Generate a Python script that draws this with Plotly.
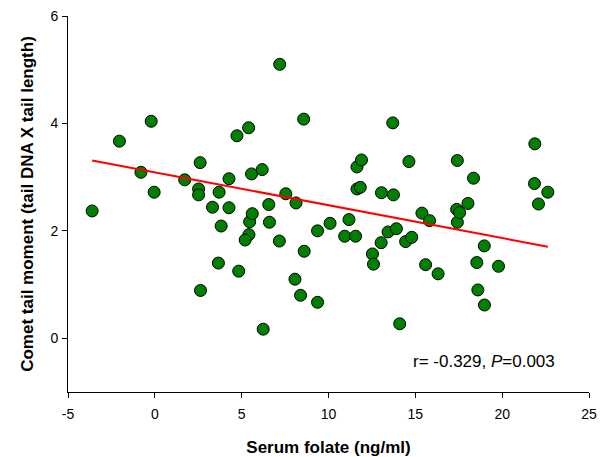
import plotly.graph_objects as go

# Serum folate (ng/ml)
folate = [-3.61, -2.04, -0.80, -0.21, -0.04, 1.72, 2.52, 2.52, 2.61, 2.63,
          3.32, 3.66, 3.70, 3.82, 4.27, 4.27, 4.73, 4.83, 5.40, 5.42,
          5.20, 5.46, 5.57, 5.61, 6.18, 6.24, 6.56, 6.60, 7.17, 7.19,
          7.54, 8.07, 8.13, 8.39, 8.57, 8.60, 9.37, 9.37, 10.09, 10.93,
          11.18, 11.56, 11.64, 11.90, 11.64, 11.83, 12.53, 12.59, 13.03, 13.05,
          13.43, 13.70, 13.74, 13.91, 14.10, 14.44, 14.63, 14.79, 15.38, 15.59,
          15.82, 16.31, 17.38, 17.42, 17.42, 17.55, 18.03, 18.35, 18.54, 18.60,
          18.97, 18.98, 19.79, 21.86, 21.88, 22.09, 22.63]
# Comet tail moment
tail_moment = [2.37, 3.67, 3.09, 4.04, 2.72, 2.95, 2.78, 2.67, 3.27, 0.89,
               2.44, 1.40, 2.72, 2.09, 2.97, 2.43, 3.77, 1.25, 3.92, 1.93,
               1.83, 2.17, 3.06, 2.32, 3.14, 0.17, 2.49, 2.16, 1.81, 5.10,
               2.69, 1.10, 2.52, 0.80, 4.08, 1.62, 2.00, 0.67, 2.14, 1.90,
               2.21, 1.90, 3.19, 3.32, 2.78, 2.81, 1.57, 1.38, 1.78, 2.71,
               1.98, 4.01, 2.67, 2.04, 0.27, 1.80, 3.29, 1.88, 2.33, 1.37,
               2.19, 1.20, 2.40, 3.31, 2.16, 2.34, 2.51, 2.98, 1.41, 0.90,
               1.72, 0.62, 1.34, 2.88, 3.62, 2.50, 2.72]

# Regression line
fit_intercept = 3.089
fit_slope = -0.0612
fit_x = [min(folate), max(folate)]
fit_y = [fit_intercept + fit_slope * v for v in fit_x]

x_ticks = [-5, 0, 5, 10, 15, 20, 25]
y_ticks = [0, 2, 4, 6]
stat_label = "r= -0.329, <i>P</i>=0.003"

FONT = "Liberation Sans, Arial, sans-serif"

fig = go.Figure()
fig.add_trace(go.Scatter(
    x=folate, y=tail_moment, mode="markers",
    marker=dict(size=12, color="#008000", line=dict(color="black", width=1)),
    showlegend=False, hoverinfo="skip",
))
fig.add_trace(go.Scatter(
    x=fit_x, y=fit_y, mode="lines",
    line=dict(color="#ff0000", width=2),
    showlegend=False, hoverinfo="skip",
))

fig.add_annotation(
    x=23.15, y=-0.43, xref="x", yref="y", text=stat_label,
    showarrow=False, xanchor="right", yanchor="middle",
    font=dict(family=FONT, size=17, color="black"),
)

fig.update_layout(
    width=603, height=457,
    margin=dict(l=68, r=14, t=16, b=65),
    paper_bgcolor="white", plot_bgcolor="white",
    font=dict(family=FONT, color="black"),
)
fig.update_xaxes(
    range=[-5, 25], tickvals=x_ticks, ticktext=[str(v) for v in x_ticks],
    showgrid=False, zeroline=False, showline=True, linecolor="black", linewidth=1,
    ticks="outside", ticklen=5, tickcolor="black", tickfont=dict(size=14, family=FONT),
    ticklabelstandoff=4, automargin=False,
    title=dict(text="<b>Serum folate (ng/ml)</b>", font=dict(size=17, family=FONT), standoff=22),
)
fig.update_yaxes(
    range=[-1, 6], tickvals=y_ticks, ticktext=[str(v) for v in y_ticks],
    showgrid=False, zeroline=False, showline=True, linecolor="black", linewidth=1,
    ticks="outside", ticklen=5, tickcolor="black", tickfont=dict(size=14, family=FONT),
    ticklabelstandoff=1, automargin=False,
    title=dict(text="<b>Comet tail moment (tail DNA X tail length)</b>", font=dict(size=17, family=FONT), standoff=12),
)

fig.write_html("out.html", config={"displayModeBar": False},
               post_script="document.body.style.margin='0';")
